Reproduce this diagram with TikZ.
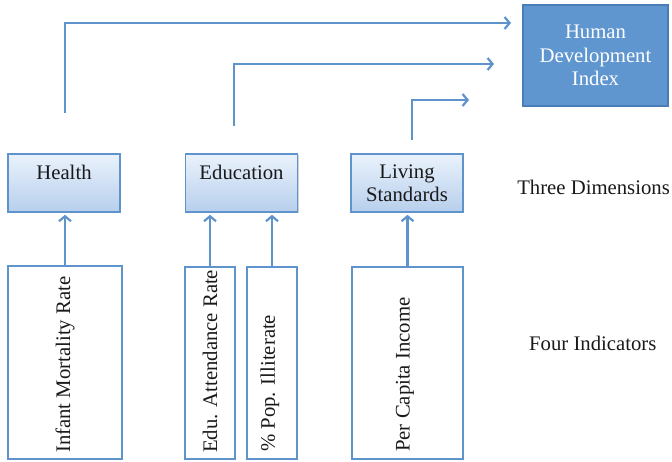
\documentclass[tikz,border=0pt]{standalone}
\usepackage{fontspec}
\setmainfont{Liberation Serif}
\usetikzlibrary{arrows.meta,shadows}
\definecolor{lineblue}{HTML}{5F93CC}
\definecolor{hdifill}{HTML}{6096CF}
\definecolor{hdiborder}{HTML}{4A7DB5}
\definecolor{gradtop}{HTML}{EAF2FC}
\definecolor{gradbot}{HTML}{B7CFEC}
\tikzset{
  txt/.style={font=\fontsize{20.8}{23.5}\selectfont, text=black!90},
  dimbox/.style={txt, draw=lineblue, line width=1.6bp, top color=gradtop, bottom color=gradbot,
     minimum width=112bp, minimum height=58bp, inner sep=0pt, align=center,
     drop shadow={shadow xshift=1bp, shadow yshift=-1.5bp, opacity=0.35, fill=gray}},
  indbox/.style={draw=lineblue, line width=1.6bp, fill=white, inner sep=0pt},
  hdibox/.style={txt, text=white, draw=hdiborder, line width=1.6bp, fill=hdifill,
     minimum width=145bp, minimum height=101bp, inner sep=0pt, align=center},
  vtxt/.style={txt, rotate=90, anchor=west, inner sep=0pt},
  conn/.style={draw=lineblue, line width=2.2bp, -{Straight Barb[length=5bp,width=12bp]}},
}
\begin{document}
\begin{tikzpicture}[x=1bp,y=-1bp]
\useasboundingbox (0,0) rectangle (672,462);
% HDI
\node[hdibox] (hdi) at (595.5,55.5) {Human\\Development\\Index};
% dimensions
\node[dimbox] (health) at (64,183) {Health\\[-10pt]\strut};
\node[dimbox] (edu) at (241.5,183) {Education\\[-10pt]\strut};
\node[dimbox] (liv) at (407,183) {Living\\Standards};
% indicator boxes
\draw[indbox] (8,266) rectangle (122,459);
\node[minimum width=114bp,minimum height=193bp,inner sep=0pt] (imr) at (65,362.5) {};
\draw[indbox] (185,267) rectangle (235,459);
\node[minimum width=50bp,minimum height=192bp,inner sep=0pt] (ear) at (210,363) {};
\draw[indbox] (247,267) rectangle (297,459);
\node[minimum width=50bp,minimum height=192bp,inner sep=0pt] (pil) at (272,363) {};
\draw[indbox] (352,267) rectangle (463,459);
\node[minimum width=111bp,minimum height=192bp,inner sep=0pt] (pci) at (407.5,363) {};
% rotated texts
\node[vtxt] (timr) at (65,453) {Infant Mortality Rate};
\node[vtxt] (tear) at (210,453) {Edu. Attendance Rate};
\node[vtxt] (tpil) at (270,452) {\% Pop. Illiterate};
\node[vtxt] (tpci) at (405,452) {Per Capita Income};
% side labels
\node[txt, anchor=east, inner sep=0pt] (three) at (670,187) {Three Dimensions};
\node[txt, anchor=west, inner sep=0pt] (four) at (529,343) {Four Indicators};
% indicator -> dimension arrows
\draw[conn] (imr.north) -- ([yshift=-2bp]imr.north |- health.south);
\draw[conn] (ear.north) -- ([yshift=-2bp]ear.north |- edu.south);
\draw[conn] (pil.north) -- ([yshift=-2bp]pil.north |- edu.south);
\draw[conn] (pci.north) -- ([yshift=-2bp]pci.north |- liv.south);
% dimension -> HDI arrows (free ends)
\coordinate (hs) at (65,113);
\coordinate (he) at (511,23);
\coordinate (es) at (234,126);
\coordinate (ee) at (494,64);
\coordinate (ls) at (412,140);
\coordinate (le) at (469,100);
\draw[conn] (hs) |- (he);
\draw[conn] (es) |- (ee);
\draw[conn] (ls) |- (le);
\end{tikzpicture}
\end{document}
